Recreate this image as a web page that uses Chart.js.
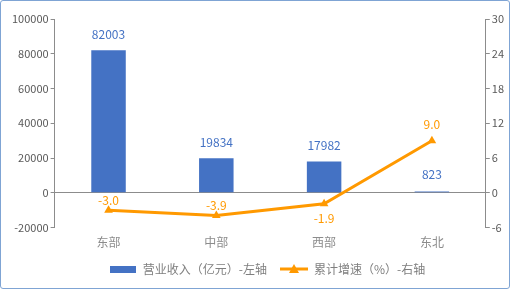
<!DOCTYPE html>
<html>
<head>
<meta charset="utf-8">
<script src="https://cdn.jsdelivr.net/npm/chart.js@4"></script>
<style>
  html, body { margin: 0; padding: 0; background: #fff; }
  #wrap { position: relative; width: 510px; height: 289px; }
  #frame { position: absolute; left: 0; top: 0; width: 508px; height: 287px;
           border: 1px solid #7fa4d4; border-radius: 3px; pointer-events: none; }
</style>
</head>
<body>
<div id="wrap">
  <canvas id="myChart" width="510" height="289"></canvas>
  <div id="frame"></div>
</div>
<script>
// Dados do gráfico
const categorias = ['东部', '中部', '西部', '东北'];
const receita = [82003, 19834, 17982, 823];
const crescimento = [-3.0, -3.9, -1.9, 9.0];
const ticksEsq = [100000, 80000, 60000, 40000, 20000, 0, -20000];
const ticksDir = [30, 24, 18, 12, 6, 0, -6];
const nomes = ['营业收入（亿元）-左轴', '累计增速（%）-右轴'];

const AZUL = '#4472c4';
const LARANJA = '#ff9900';
const FONTE = '"Noto Sans CJK SC", "Noto Sans", sans-serif';

// Ícones da legenda
function iconeBarra() {
  const c = document.createElement('canvas');
  c.width = 26; c.height = 7;
  const g = c.getContext('2d');
  g.fillStyle = AZUL;
  g.fillRect(0, 0, 26, 7);
  return c;
}
function iconeLinha() {
  const c = document.createElement('canvas');
  c.width = 28; c.height = 10;
  const g = c.getContext('2d');
  g.strokeStyle = LARANJA;
  g.lineWidth = 3;
  g.beginPath(); g.moveTo(0, 5); g.lineTo(28, 5); g.stroke();
  g.fillStyle = LARANJA;
  g.beginPath(); g.moveTo(14, 0); g.lineTo(19, 9); g.lineTo(9, 9); g.closePath(); g.fill();
  return c;
}

// Rótulos de valores (deslocamentos em px)
const deslBarra = [-16, -16, -16, -17];
const deslLinha = [-10, -10, 15, -16];
const rotulos = {
  id: 'rotulos',
  afterLayout(chart) {
    // Empurramos a legenda um pouco para a direita
    chart.legend.left += 9;
    chart.legend.right += 9;
  },
  afterDatasetsDraw(chart) {
    const ctx = chart.ctx;
    ctx.save();
    ctx.font = '12px ' + FONTE;
    ctx.textAlign = 'center';
    ctx.textBaseline = 'middle';
    chart.getDatasetMeta(0).data.forEach((el, i) => {
      ctx.fillStyle = AZUL;
      ctx.fillText(String(receita[i]), el.x, el.y + deslBarra[i]);
    });
    chart.getDatasetMeta(1).data.forEach((el, i) => {
      ctx.fillStyle = LARANJA;
      ctx.fillText(crescimento[i].toFixed(1), el.x, el.y + deslLinha[i]);
    });
    ctx.restore();
  }
};

const eixoCor = '#8c8c8c';

new Chart(document.getElementById('myChart'), {
  type: 'bar',
  data: {
    labels: categorias,
    datasets: [{
      label: nomes[0],
      data: receita,
      backgroundColor: AZUL,
      yAxisID: 'y',
      barPercentage: 0.32,
      categoryPercentage: 1,
      order: 2
    }, {
      type: 'line',
      label: nomes[1],
      data: crescimento,
      borderColor: LARANJA,
      backgroundColor: LARANJA,
      borderWidth: 3,
      pointStyle: 'triangle',
      pointRadius: 5,
      pointBorderWidth: 0,
      yAxisID: 'y1',
      order: 1
    }]
  },
  options: {
    responsive: false,
    animation: false,
    layout: { padding: { top: 19, left: 10, right: 4, bottom: 4 } },
    plugins: {
      tooltip: { enabled: false },
      legend: {
        position: 'bottom',
        labels: {
          usePointStyle: true,
          pointStyleWidth: 28,
          color: '#7f7f7f',
          font: { size: 12, family: FONTE },
          padding: 13,
          generateLabels() {
            return [
              { text: nomes[0], pointStyle: iconeBarra(), fontColor: '#7f7f7f', datasetIndex: 0, hidden: false, lineWidth: 0 },
              { text: nomes[1], pointStyle: iconeLinha(), fontColor: '#7f7f7f', datasetIndex: 1, hidden: false, lineWidth: 0 }
            ];
          }
        }
      }
    },
    scales: {
      x: {
        grid: { display: false },
        border: { display: false },
        ticks: { color: '#8c8c8c', font: { size: 12, family: FONTE }, padding: 0 }
      },
      y: {
        position: 'left',
        min: -20000, max: 100000,
        afterBuildTicks: s => { s.ticks = ticksEsq.map(v => ({ value: v })); },
        grid: {
          color: c => (c.tick && c.tick.value === 0) ? eixoCor : 'transparent',
          tickColor: eixoCor,
          tickLength: 4,
          lineWidth: 1
        },
        border: { display: true, color: eixoCor },
        ticks: { color: '#595959', font: { size: 11, family: FONTE }, padding: 2, callback: v => String(v) }
      },
      y1: {
        position: 'right',
        min: -6, max: 30,
        afterBuildTicks: s => { s.ticks = ticksDir.map(v => ({ value: v })); },
        grid: { drawOnChartArea: false, tickColor: eixoCor, tickLength: 4 },
        border: { display: true, color: eixoCor },
        ticks: { color: '#595959', font: { size: 11, family: FONTE }, padding: 2, callback: v => String(v) }
      }
    }
  },
  plugins: [rotulos]
});
</script>
</body>
</html>
